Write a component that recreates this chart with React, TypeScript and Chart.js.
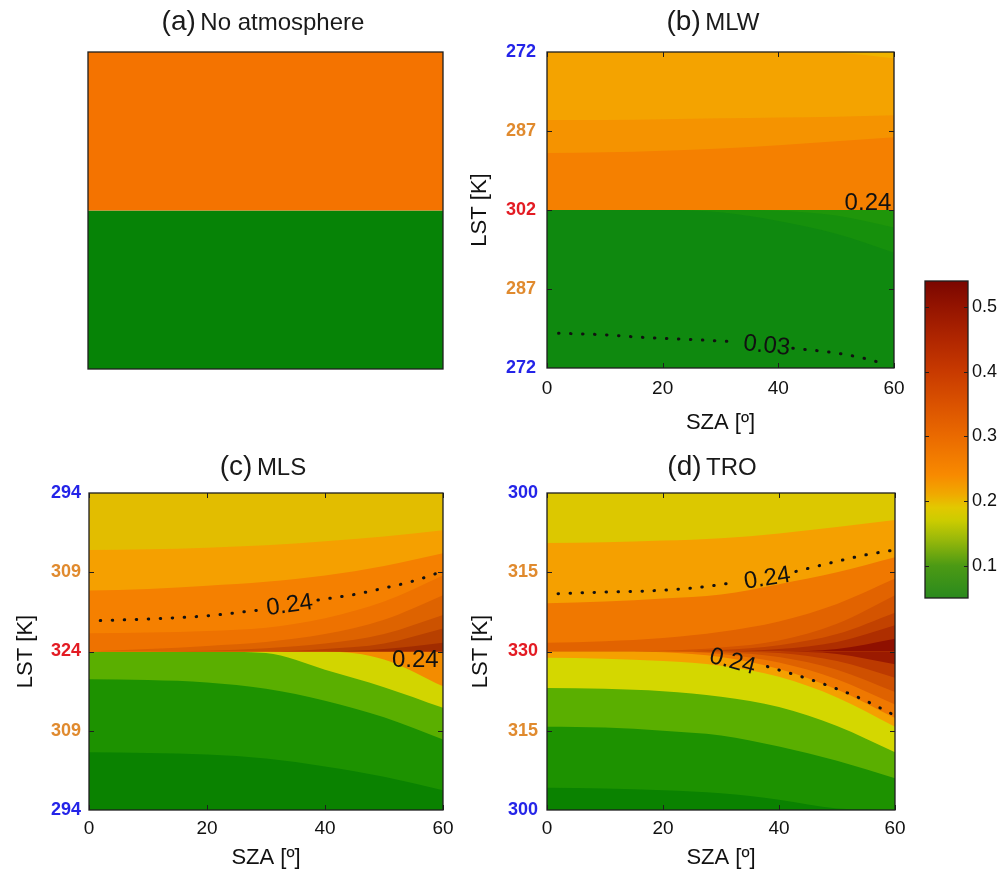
import React, { useEffect, useRef } from "react";
import { Chart, registerables } from "chart.js";

Chart.register(...registerables);

const FONT = "'Liberation Sans', Arial, Helvetica, sans-serif";
Chart.defaults.font.family = FONT;
Chart.defaults.color = "#111";

// ---------- shared axes data ----------
const SZA = [0, 10, 20, 30, 40, 50, 60];
const TOP = [4, 4, 4, 4, 4, 4, 4];
const BOT = [0, 0, 0, 0, 0, 0, 0];
const X_TICKS = [0, 20, 40, 60];
const Y_TICKS = [0, 1, 2, 3, 4];
const MLW_LST = [272, 287, 302, 287, 272];
const MLS_LST = [294, 309, 324, 309, 294];
const TRO_LST = [300, 315, 330, 315, 300];
const LST_COLORS = ["#2424e8", "#e08a2e", "#e31b23", "#e08a2e", "#2424e8"];

// ---------- (a) No atmosphere ----------
const NOATM_UPPER_COLORS = ["#f47300"];
const NOATM_LOWER_COLORS = ["#068306"];

// ---------- (b) MLW ----------
const MLW_U1 = [2.72, 2.73, 2.75, 2.78, 2.82, 2.87, 2.92];
const MLW_U2 = [3.14, 3.14, 3.15, 3.16, 3.17, 3.18, 3.2];
const MLW_U3 = [4, 4, 4, 4, 4, 3.99, 3.92];
const MLW_UPPER_COLORS = ["#f58000", "#f59300", "#f4a300", "#f0b400"];
const MLW_L1 = [2, 2, 2, 2, 1.99, 1.93, 1.78];
const MLW_L2 = [2, 2, 2, 1.97, 1.86, 1.7, 1.46];
const MLW_LOWER_COLORS = ["#1f960a", "#16900c", "#0f890f"];
const MLW_C003A_X = [2, 10, 16, 25, 33];
const MLW_C003A_Y = [0.44, 0.42, 0.39, 0.36, 0.33];
const MLW_C003B_X = [42.5, 50, 55, 58];
const MLW_C003B_Y = [0.25, 0.19, 0.12, 0.06];

// ---------- (c) MLS ----------
const MLS_U1 = [2, 2, 2, 2, 2, 2.03, 2.11];
const MLS_U2 = [2, 2, 2, 2, 2.03, 2.1, 2.29];
const MLS_U3 = [2, 2, 2.01, 2.04, 2.1, 2.22, 2.46];
const MLS_U4 = [2, 2.03, 2.07, 2.12, 2.22, 2.4, 2.71];
const MLS_U5 = [2.23, 2.24, 2.26, 2.3, 2.42, 2.63, 2.96];
const MLS_U6 = [2.77, 2.79, 2.83, 2.88, 2.96, 3.08, 3.24];
const MLS_U7 = [3.28, 3.29, 3.31, 3.34, 3.39, 3.45, 3.53];
const MLS_UPPER_COLORS = ["#a12c00", "#b84000", "#cc5200", "#de6300", "#ee7200", "#f58000", "#f5a000", "#e2bd00"];
const MLS_L1 = [2, 2, 2, 2, 2, 1.9, 1.56];
const MLS_L2 = [2, 2, 2, 1.98, 1.77, 1.55, 1.29];
const MLS_L3 = [1.65, 1.64, 1.61, 1.53, 1.38, 1.17, 0.89];
const MLS_L4 = [0.73, 0.72, 0.7, 0.65, 0.55, 0.42, 0.25];
const MLS_LOWER_COLORS = ["#f38c00", "#d2d500", "#5aaf00", "#1d9200", "#0a8200"];
const MLS_C024A_X = [1.9, 10, 20, 28.5];
const MLS_C024A_Y = [2.39, 2.41, 2.45, 2.52];
const MLS_C024B_X = [38.8, 45, 50, 55, 59.5];
const MLS_C024B_Y = [2.65, 2.72, 2.8, 2.89, 3.0];

// ---------- (d) TRO ----------
const TRO_U1 = [2, 2, 2, 2, 2, 2.03, 2.16];
const TRO_U2 = [2, 2, 2, 2, 2.03, 2.12, 2.33];
const TRO_U3 = [2, 2, 2, 2.02, 2.08, 2.22, 2.49];
const TRO_U4 = [2, 2, 2.01, 2.05, 2.14, 2.35, 2.71];
const TRO_U5 = [2.11, 2.13, 2.17, 2.25, 2.38, 2.6, 2.92];
const TRO_U6 = [2.61, 2.63, 2.67, 2.72, 2.85, 3.0, 3.19];
const TRO_U7 = [3.37, 3.38, 3.4, 3.43, 3.49, 3.57, 3.66];
const TRO_UPPER_COLORS = ["#8f1000", "#ae2e00", "#c24200", "#d45400", "#e26300", "#f07800", "#f5a000", "#dcc800"];
const TRO_L1 = [2, 2, 2, 2, 2, 1.97, 1.84];
const TRO_L2 = [2, 2, 2, 2, 1.98, 1.88, 1.67];
const TRO_L3 = [2, 2, 2, 1.99, 1.93, 1.77, 1.49];
const TRO_L4 = [2, 2, 2, 1.97, 1.86, 1.65, 1.33];
const TRO_L5 = [2, 2, 1.99, 1.93, 1.78, 1.52, 1.16];
const TRO_L6 = [1.92, 1.91, 1.88, 1.82, 1.68, 1.42, 1.05];
const TRO_L7 = [1.54, 1.53, 1.5, 1.43, 1.3, 1.06, 0.73];
const TRO_L8 = [1.05, 1.04, 1.0, 0.94, 0.8, 0.62, 0.4];
const TRO_L9 = [0.28, 0.27, 0.25, 0.21, 0.13, 0.02, 0];
const TRO_LOWER_COLORS = ["#9a1a00", "#bc3a00", "#cf5000", "#df6200", "#ef7800", "#f5a000", "#d4d700", "#5aaf00", "#1d9200", "#0a8200"];
const TRO_C024A_X = [1.9, 10, 16, 25, 32.4];
const TRO_C024A_Y = [2.73, 2.75, 2.76, 2.8, 2.87];
const TRO_C024B_X = [42.9, 50.7, 55, 59.8];
const TRO_C024B_Y = [3.01, 3.15, 3.22, 3.28];
const TRO_C024C_X = [38, 46.5, 54, 59.8];
const TRO_C024C_Y = [1.81, 1.62, 1.41, 1.2];

// ---------- colorbar ----------
const CB_MIN = 0.05;
const CB_MAX = 0.54;
const CB_TICKS = [0.1, 0.2, 0.3, 0.4, 0.5];
const CB_STOPS = [0.05, 0.1, 0.14, 0.17, 0.19, 0.21, 0.24, 0.3, 0.35, 0.4, 0.45, 0.5, 0.54];
const CB_COLORS = ["#2a8a1e", "#4c9a14", "#98b80a", "#cccc00", "#e2c800", "#f0aa00", "#f88a00", "#ea6a00", "#da5200", "#c83a00", "#b02600", "#941400", "#7a0600"];

type Lab = { text: string; x: number; y: number; rot: number };

function makeFrame(opts: { xTicks?: number[]; yTicks?: number[]; labels?: Lab[]; tickLen?: number }) {
  return {
    id: "frame",
    afterDraw(chart: any) {
      const { ctx, chartArea: a } = chart;
      const L = opts.tickLen ?? 5;
      ctx.save();
      ctx.strokeStyle = "#1e1e1e";
      ctx.lineWidth = 1;
      const line = (x1: number, y1: number, x2: number, y2: number) => {
        ctx.beginPath();
        ctx.moveTo(x1, y1);
        ctx.lineTo(x2, y2);
        ctx.stroke();
      };
      if (opts.xTicks) {
        const sx = chart.scales.x;
        for (const v of opts.xTicks) {
          const px = Math.round(sx.getPixelForValue(v)) + 0.5;
          line(px, a.bottom, px, a.bottom - L);
          line(px, a.top, px, a.top + L);
        }
      }
      if (opts.yTicks) {
        const sy = chart.scales.y;
        for (const v of opts.yTicks) {
          const py = Math.round(sy.getPixelForValue(v)) + 0.5;
          line(a.left, py, a.left + L, py);
          line(a.right, py, a.right - L, py);
        }
      }
      ctx.lineWidth = 1.3;
      ctx.strokeRect(a.left, a.top, a.right - a.left, a.bottom - a.top);
      for (const lab of opts.labels || []) {
        const px = chart.scales.x.getPixelForValue(lab.x);
        const py = chart.scales.y.getPixelForValue(lab.y);
        ctx.save();
        ctx.translate(px, py);
        ctx.rotate((lab.rot * Math.PI) / 180);
        ctx.font = `24px ${FONT}`;
        ctx.fillStyle = "#111";
        ctx.textAlign = "center";
        ctx.textBaseline = "middle";
        ctx.fillText(lab.text, 0, 0);
        ctx.restore();
      }
      ctx.restore();
    },
  };
}

function pts(xs: number[], ys: number[]) {
  return xs.map((x, i) => ({ x, y: ys[i] }));
}

function band(curve: number[], color: string) {
  return {
    data: pts(SZA, curve),
    backgroundColor: color,
    borderColor: color,
    borderWidth: 0,
    pointRadius: 0,
    fill: { value: 2 },
    cubicInterpolationMode: "monotone",
  };
}

function contour(xs: number[], ys: number[]) {
  return {
    data: pts(xs, ys),
    borderColor: "#111",
    borderWidth: 3,
    borderDash: [0.5, 11.5],
    borderCapStyle: "round",
    pointRadius: 0,
    fill: false,
    cubicInterpolationMode: "monotone",
  };
}

type PanelSpec = {
  upper: number[][];
  upperColors: string[];
  lower: number[][];
  lowerColors: string[];
  contours: [number[], number[]][];
  labels: Lab[];
  axes: boolean;
  lst?: number[];
  padding: { left: number; top: number; right: number; bottom: number };
  yAxisW?: number;
  xAxisH?: number;
  yTickGap?: number;
  xTickPad?: number;
  yTitlePad?: number;
  xTitlePad?: number;
};

const HIDDEN_GRID = (len: number) => ({
  display: true,
  drawOnChartArea: false,
  drawTicks: true,
  tickLength: len,
  color: "rgba(0,0,0,0)",
});

function panelConfig(p: PanelSpec): any {
  const datasets: any[] = [];
  for (const [xs, ys] of p.contours) datasets.push(contour(xs, ys));
  p.upper.forEach((c, k) => datasets.push(band(c, p.upperColors[k])));
  p.lower.forEach((c, k) => datasets.push(band(c, p.lowerColors[k])));
  const lst = p.lst || [];
  return {
    type: "line",
    data: { datasets },
    options: {
      responsive: false,
      animation: false,
      events: [],
      layout: { padding: p.padding },
      plugins: { legend: { display: false }, tooltip: { enabled: false } },
      scales: {
        x: {
          type: "linear",
          min: 0,
          max: 60,
          display: p.axes,
          afterBuildTicks: (s: any) => {
            s.ticks = X_TICKS.map((v) => ({ value: v }));
          },
          afterFit: (s: any) => {
            if (p.xAxisH) s.height = p.xAxisH;
          },
          grid: { display: false, drawTicks: false },
          border: { display: false },
          ticks: { font: { size: 19, family: FONT }, color: "#111", padding: p.xTickPad ?? 9, maxRotation: 0 },
          title: {
            display: true,
            text: "SZA [º]",
            font: { size: 22, family: FONT },
            color: "#111",
            padding: { top: 0, bottom: p.xTitlePad ?? 4 },
          },
        },
        y: {
          type: "linear",
          min: 0,
          max: 4,
          display: p.axes,
          afterBuildTicks: (s: any) => {
            s.ticks = Y_TICKS.map((v) => ({ value: v }));
          },
          afterFit: (s: any) => {
            if (p.yAxisW) s.width = p.yAxisW;
          },
          grid: HIDDEN_GRID(p.yTickGap ?? 10),
          border: { display: false },
          ticks: {
            callback: (_v: any, i: number) => String(lst[i]),
            color: (c: any) => LST_COLORS[c.index],
            font: { size: 18, weight: "bold", family: FONT },
            padding: 0,
          },
          title: {
            display: true,
            text: "LST [K]",
            font: { size: 22, family: FONT },
            color: "#111",
            padding: { top: p.yTitlePad ?? 2, bottom: 0 },
          },
        },
      },
    },
    plugins: [makeFrame({ xTicks: p.axes ? X_TICKS : undefined, yTicks: p.axes ? [1, 2, 3] : undefined, labels: p.labels })],
  };
}

function colorbarConfig(): any {
  return {
    type: "bar",
    data: {
      labels: [""],
      datasets: [
        {
          data: [[CB_MIN, CB_MAX]],
          borderWidth: 0,
          barPercentage: 1,
          categoryPercentage: 1,
          backgroundColor: (c: any) => {
            const chart = c.chart;
            if (!chart.chartArea) return CB_COLORS[0];
            const sy = chart.scales.y;
            const g = chart.ctx.createLinearGradient(0, sy.getPixelForValue(CB_MIN), 0, sy.getPixelForValue(CB_MAX));
            CB_STOPS.forEach((s, i) => g.addColorStop((s - CB_MIN) / (CB_MAX - CB_MIN), CB_COLORS[i]));
            return g;
          },
        },
      ],
    },
    options: {
      responsive: false,
      animation: false,
      events: [],
      layout: { padding: { left: 10, top: 11, bottom: 12, right: 0 } },
      plugins: { legend: { display: false }, tooltip: { enabled: false } },
      scales: {
        x: { display: false },
        y: {
          position: "right",
          min: CB_MIN,
          max: CB_MAX,
          afterBuildTicks: (s: any) => {
            s.ticks = CB_TICKS.map((v) => ({ value: v }));
          },
          afterFit: (s: any) => {
            s.width = 35;
          },
          grid: HIDDEN_GRID(4),
          border: { display: false },
          ticks: { font: { size: 18, family: FONT }, color: "#111", padding: 0, callback: (v: any) => Number(v).toFixed(1) },
        },
      },
    },
    plugins: [makeFrame({ yTicks: CB_TICKS, tickLen: 4 })],
  };
}

function ChartBox({ left, top, width, height, make }: { left: number; top: number; width: number; height: number; make: () => any }) {
  const ref = useRef<HTMLCanvasElement>(null);
  useEffect(() => {
    const chart = new Chart(ref.current as HTMLCanvasElement, make());
    return () => chart.destroy();
  }, []);
  return <canvas ref={ref} width={width} height={height} style={{ position: "absolute", left, top, width, height }} />;
}

function PanelTitle({ cx, cy, tag, name }: { cx: number; cy: number; tag: string; name: string }) {
  return (
    <div
      style={{
        position: "absolute",
        left: cx,
        top: cy,
        transform: "translate(-50%, -50%)",
        whiteSpace: "nowrap",
        fontFamily: FONT,
        color: "#1a1a1a",
        lineHeight: 1,
      }}
    >
      <span style={{ fontSize: 28 }}>{tag}</span> <span style={{ fontSize: 24 }}>{name}</span>
    </div>
  );
}

export default function App() {
  const noatm: PanelSpec = {
    upper: [TOP],
    upperColors: NOATM_UPPER_COLORS,
    lower: [BOT],
    lowerColors: NOATM_LOWER_COLORS,
    contours: [],
    labels: [],
    axes: false,
    padding: { left: 88, top: 17, right: 22, bottom: 71 },
  };
  const mlw: PanelSpec = {
    upper: [MLW_U1, MLW_U2, MLW_U3, TOP],
    upperColors: MLW_UPPER_COLORS,
    lower: [MLW_L1, MLW_L2, BOT],
    lowerColors: MLW_LOWER_COLORS,
    contours: [
      [MLW_C003A_X, MLW_C003A_Y],
      [MLW_C003B_X, MLW_C003B_Y],
    ],
    labels: [
      { text: "0.03", x: 38, y: 0.28, rot: 6 },
      { text: "0.24", x: 55.5, y: 2.09, rot: 0 },
    ],
    axes: true,
    lst: MLW_LST,
    padding: { left: 0, top: 17, right: 26, bottom: 0 },
    yAxisW: 82,
    xAxisH: 72,
    yTickGap: 11,
    xTickPad: 9,
    yTitlePad: 2,
    xTitlePad: 4,
  };
  const mls: PanelSpec = {
    upper: [MLS_U1, MLS_U2, MLS_U3, MLS_U4, MLS_U5, MLS_U6, MLS_U7, TOP],
    upperColors: MLS_UPPER_COLORS,
    lower: [MLS_L1, MLS_L2, MLS_L3, MLS_L4, BOT],
    lowerColors: MLS_LOWER_COLORS,
    contours: [
      [MLS_C024A_X, MLS_C024A_Y],
      [MLS_C024B_X, MLS_C024B_Y],
    ],
    labels: [
      { text: "0.24", x: 34, y: 2.58, rot: -8 },
      { text: "0.24", x: 55.3, y: 1.89, rot: 0 },
    ],
    axes: true,
    lst: MLS_LST,
    padding: { left: 0, top: 13, right: 22, bottom: 0 },
    yAxisW: 89,
    xAxisH: 65,
    yTickGap: 8,
    xTickPad: 7,
    yTitlePad: 13,
    xTitlePad: 4,
  };
  const tro: PanelSpec = {
    upper: [TRO_U1, TRO_U2, TRO_U3, TRO_U4, TRO_U5, TRO_U6, TRO_U7, TOP],
    upperColors: TRO_UPPER_COLORS,
    lower: [TRO_L1, TRO_L2, TRO_L3, TRO_L4, TRO_L5, TRO_L6, TRO_L7, TRO_L8, TRO_L9, BOT],
    lowerColors: TRO_LOWER_COLORS,
    contours: [
      [TRO_C024A_X, TRO_C024A_Y],
      [TRO_C024B_X, TRO_C024B_Y],
      [TRO_C024C_X, TRO_C024C_Y],
    ],
    labels: [
      { text: "0.24", x: 38, y: 2.92, rot: -9 },
      { text: "0.24", x: 32, y: 1.87, rot: 15 },
    ],
    axes: true,
    lst: TRO_LST,
    padding: { left: 0, top: 13, right: 25, bottom: 0 },
    yAxisW: 82,
    xAxisH: 65,
    yTickGap: 9,
    xTickPad: 7,
    yTitlePad: 3,
    xTitlePad: 4,
  };

  return (
    <div style={{ position: "absolute", left: 0, top: 0, width: 1003, height: 877, background: "#fff", overflow: "hidden" }}>
      <ChartBox left={0} top={35} width={465} height={405} make={() => panelConfig(noatm)} />
      <ChartBox left={465} top={35} width={455} height={405} make={() => panelConfig(mlw)} />
      <ChartBox left={0} top={480} width={465} height={395} make={() => panelConfig(mls)} />
      <ChartBox left={465} top={480} width={455} height={395} make={() => panelConfig(tro)} />
      <ChartBox left={915} top={270} width={88} height={340} make={colorbarConfig} />
      <PanelTitle cx={263} cy={21} tag="(a)" name="No atmosphere" />
      <PanelTitle cx={713} cy={21} tag="(b)" name="MLW" />
      <PanelTitle cx={263} cy={466} tag="(c)" name="MLS" />
      <PanelTitle cx={712} cy={466} tag="(d)" name="TRO" />
    </div>
  );
}
